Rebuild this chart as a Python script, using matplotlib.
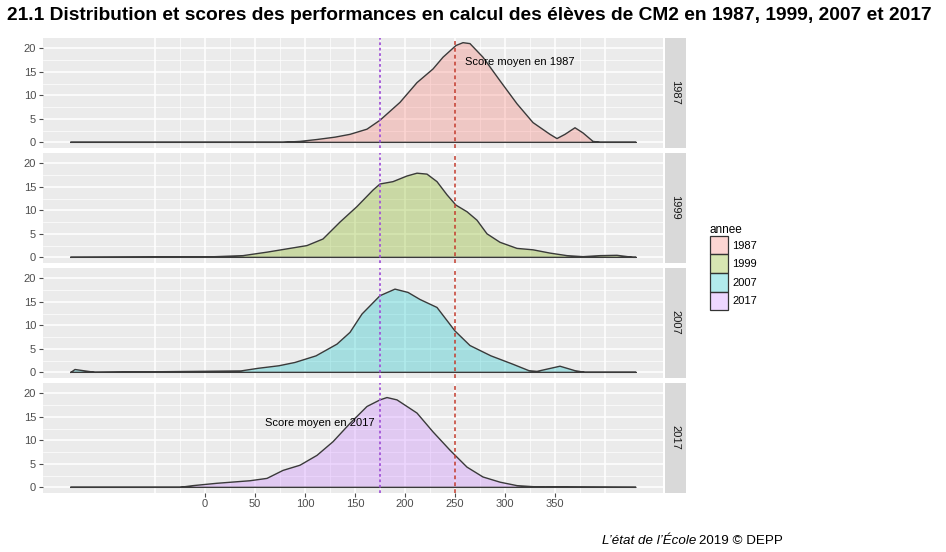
import matplotlib
matplotlib.use('Agg')
import matplotlib.pyplot as plt
from matplotlib.patches import Patch

plt.rcParams['font.family'] = ['Liberation Sans', 'DejaVu Sans']

years = ['1987', '1999', '2007', '2017']
colors = ['#F8766D', '#7CAE00', '#00BFC4', '#C77CFF']

# density curves (score, density)
x_1987 = [-134, 78, 95, 112, 130, 145, 162, 175, 195, 212, 228, 238, 251, 258, 265, 278,
          295, 312, 328, 345, 352, 360, 370, 378, 388, 395, 431]
y_1987 = [0, 0, 0.2, 0.6, 1.1, 1.7, 2.8, 4.7, 8.5, 12.7, 15.6, 18.1, 20.6, 21.2, 21.0, 18.1,
          13.1, 8.2, 4.2, 1.7, 0.8, 1.7, 3.1, 2.0, 0.2, 0, 0]

x_1999 = [-134, -60, 5, 38, 62, 82, 102, 118, 135, 152, 168, 175, 188, 202, 212, 222, 232,
          242, 251, 262, 272, 282, 295, 312, 328, 345, 362, 378, 395, 412, 428, 431]
y_1999 = [0, 0.05, 0.1, 0.36, 1.1, 1.8, 2.5, 3.9, 7.5, 10.8, 14.3, 15.6, 16.1, 17.3, 17.9,
          17.7, 16.1, 13.3, 11.1, 9.7, 7.9, 5.0, 3.2, 1.9, 1.6, 0.9, 0.36, 0.14, 0.36, 0.43, 0, 0]

x_2007 = [-134, -130, -110, -60, -10, 36, 53, 74, 90, 111, 132, 145, 157, 175, 190, 203,
          215, 232, 250, 265, 286, 307, 324, 332, 355, 370, 380, 431]
y_2007 = [0, 0.6, 0, 0.1, 0.2, 0.3, 0.85, 1.4, 2.1, 3.5, 6.0, 8.5, 12.4, 16.3, 17.7, 17.0,
          15.5, 13.8, 8.8, 5.7, 3.5, 1.8, 0.35, 0.2, 1.3, 0.35, 0, 0]

x_2017 = [-134, -25, -12, 12, 45, 62, 78, 95, 112, 128, 145, 162, 175, 182, 192, 212, 228,
          245, 262, 278, 295, 312, 328, 340, 350, 365, 431]
y_2017 = [0, 0, 0.36, 0.86, 1.4, 1.9, 3.6, 4.7, 6.8, 9.7, 13.6, 17.2, 18.6, 19.1, 18.6,
          15.8, 11.8, 7.9, 4.3, 2.2, 1.1, 0.36, 0.14, 0.05, 0.08, 0.05, 0]

curves = [(x_1987, y_1987), (x_1999, y_1999), (x_2007, y_2007), (x_2017, y_2017)]

mean_2017 = 175
mean_1987 = 250
xticks = [0, 50, 100, 150, 200, 250, 300, 350]
yticks = [0, 5, 10, 15, 20]

W, H = 946, 552
fig = plt.figure(figsize=(W / 100, H / 100), dpi=100)

def box(x0, y0, w, h):
    return [x0 / W, 1 - (y0 + h) / H, w / W, h / H]

tops = [37.5, 152.5, 267.5, 382.5]
for i, (year, col, (xs, ys)) in enumerate(zip(years, colors, curves)):
    ax = fig.add_axes(box(43, tops[i], 620, 110))
    ax.set_facecolor('#EBEBEB')
    for s in ax.spines.values():
        s.set_visible(False)
    for gx in range(-50, 401, 25):
        ax.axvline(gx, color='white', lw=1.1 if gx % 50 == 0 else 0.5, zorder=0)
    for gy in [0, 2.5, 5, 7.5, 10, 12.5, 15, 17.5, 20]:
        ax.axhline(gy, color='white', lw=1.1 if gy % 5 == 0 else 0.5, zorder=0)
    ax.fill(xs, ys, facecolor=col, alpha=0.3, edgecolor='none', zorder=1)
    ax.plot(xs + [xs[0]], ys + [ys[0]], color='#3A3A3A', lw=1.0, zorder=2)
    ax.axvline(mean_2017, color='#A155D6', lw=1.3, ls=(0, (1.5, 1.5)), zorder=3)
    ax.axvline(mean_1987, color='#C0392B', lw=1.1, ls=(0, (2.5, 2)), zorder=3)
    ax.set_xlim(-162, 458)
    ax.set_ylim(-1.1, 22.3)
    ax.set_yticks(yticks)
    ax.set_xticks(xticks)
    ax.tick_params(colors='#4D4D4D', labelsize=8, length=3, width=0.8, pad=2)
    if i < 3:
        ax.tick_params(axis='x', length=0, labelbottom=False)
    if year == '1987':
        ax.text(260, 17, 'Score moyen en 1987', fontsize=8, va='center', ha='left', zorder=4)
    if year == '2017':
        ax.text(60, 13.6, 'Score moyen en 2017', fontsize=8, va='center', ha='left', zorder=4)

    sx = fig.add_axes(box(665, tops[i], 21, 110))
    sx.set_facecolor('#D9D9D9')
    sx.set_xticks([])
    sx.set_yticks([])
    for s in sx.spines.values():
        s.set_visible(False)
    sx.text(0.5, 0.5, year, rotation=-90, ha='center', va='center', fontsize=8,
            color='#1A1A1A', transform=sx.transAxes)

handles = [Patch(facecolor=matplotlib.colors.to_rgba(c, 0.3), edgecolor='#333333', lw=0.9)
           for c in colors]
leg = fig.legend(handles, years, loc='upper left', bbox_to_anchor=(702 / W, 1 - 216 / H),
                 frameon=False, fontsize=8, title='annee', title_fontsize=8.5,
                 handlelength=1.6, handleheight=2.2, labelspacing=0.0, handletextpad=0.4,
                 borderaxespad=0.3)
leg._legend_box.align = 'left'

fig.text(469 / W, 1 - 16 / H,
         '21.1 Distribution et scores des performances en calcul des élèves de CM2 en 1987, 1999, 2007 et 2017',
         ha='center', va='center', fontsize=13.8, fontweight='bold')

t1 = fig.text(602 / W, 1 - 541 / H, 'L\u2019état de l\u2019École', fontsize=9.6, style='italic',
              ha='left', va='center')
fig.canvas.draw()
bb = t1.get_window_extent()
fig.text((bb.x1 + 3) / W, 1 - 541 / H, '2019 © DEPP', fontsize=9.6, ha='left', va='center')

fig.savefig('out.png', dpi=100)
